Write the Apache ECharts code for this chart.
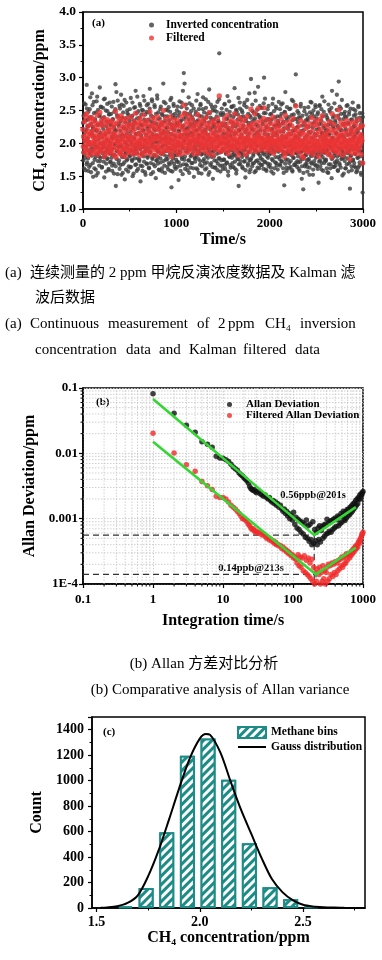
<!DOCTYPE html>
<html><head><meta charset="utf-8">
<script src="https://cdn.jsdelivr.net/npm/echarts@6/dist/echarts.min.js"></script>
<style>html,body{margin:0;padding:0;background:#fff}#c{width:382px;height:960px}</style>
</head><body><div id="c"></div>
<script>
// ================= DATA =================
// (a) continuous measurement (ppm); invertedConc sampled at t = i*timeStep,
// invertedConcB at t = i*timeStep + timeStep/2, filteredConc at t = i*timeStep
const timeStep = 4;
const invertedConc = [
2.31,1.86,2.12,1.62,2.45,2.03,1.78,2.59,1.95,2.21,2.89,1.71,2.08,2.36,1.58,1.99,2.27,1.84,2.52,2.14,1.67,2.40,1.92,2.18,2.76,
1.88,2.25,1.49,2.11,2.63,1.97,1.75,2.34,2.02,1.60,2.47,1.83,2.19,2.71,1.94,1.55,2.29,2.06,1.80,2.41,2.85,1.73,2.16,1.90,2.55,
2.09,1.64,2.38,1.96,2.22,1.79,2.67,1.48,2.13,2.00,1.87,2.50,1.69,2.26,1.93,2.60,1.77,2.04,2.33,1.59,2.17,2.44,1.85,2.01,1.72,
2.28,1.91,2.56,1.66,2.07,2.37,1.82,2.15,1.54,2.48,1.98,2.20,2.90,1.35,2.10,1.76,2.43,1.89,2.65,2.03,1.70,2.30,1.95,1.61,2.53,
2.19,1.84,2.74,1.52,2.06,2.39,1.93,1.68,2.24,2.57,1.79,2.11,1.45,2.32,2.00,1.86,2.62,1.74,2.15,2.46,1.97,1.57,2.27,2.05,1.81,
2.35,1.63,2.12,2.69,1.90,2.02,1.75,2.42,1.50,2.23,2.08,1.83,2.54,1.96,2.31,1.67,2.80,1.88,2.14,1.58,2.38,2.01,1.77,2.49,1.93,
2.16,1.73,2.60,1.99,1.42,2.29,2.07,1.85,2.51,1.65,2.20,1.94,2.72,1.80,2.36,2.04,1.56,2.44,1.89,2.13,1.69,2.58,2.00,1.78,2.25,
1.92,2.47,1.62,2.18,2.83,1.87,2.05,1.53,2.33,1.98,2.64,1.76,2.10,2.40,1.68,2.22,1.95,2.55,1.81,2.03,1.47,2.30,2.12,1.74,2.68,
2.01,1.79,2.37,1.60,2.26,2.09,1.86,2.52,1.71,2.15,1.94,2.45,1.57,2.32,2.06,2.91,1.83,2.19,1.66,2.41,1.97,2.61,1.75,2.11,1.88,
2.24,1.64,2.50,1.93,2.07,1.70,2.35,2.00,1.82,2.66,1.58,2.14,1.33,2.28,1.91,2.43,1.77,2.04,2.57,1.69,2.20,1.86,2.39,1.61,2.09,
1.95,2.31,1.72,2.56,2.02,1.84,1.44,2.18,2.47,1.89,2.10,1.66,2.34,1.98,2.62,1.76,2.13,1.53,2.27,1.92,3.07,2.05,2.91,1.80,2.21,
2.40,1.68,2.08,2.53,1.87,1.59,2.23,1.99,2.70,1.74,2.15,1.91,2.44,1.63,2.30,2.03,1.82,2.58,1.70,2.12,2.36,1.95,1.49,2.26,2.01,
1.78,2.19,2.48,1.90,1.62,2.33,2.06,2.75,1.85,2.11,1.55,2.42,1.97,2.24,1.73,2.60,2.00,1.83,2.29,1.65,2.09,2.52,1.92,2.17,1.76,
2.37,1.96,1.60,2.21,2.67,1.81,2.04,1.71,2.45,1.93,2.13,1.52,2.32,2.82,1.88,2.07,1.67,2.39,1.99,2.24,1.79,2.55,2.02,1.46,2.15,
1.89,2.28,1.74,2.50,2.05,1.63,2.18,1.94,2.41,1.84,2.63,1.69,2.10,2.34,1.98,3.37,1.77,2.22,1.57,2.46,2.01,1.87,2.30,1.66,2.12,
2.43,1.92,2.08,1.75,2.59,2.00,1.61,2.26,1.86,2.37,1.70,2.14,2.72,1.95,1.51,2.20,2.03,1.80,2.48,1.67,2.11,2.33,1.90,2.56,1.78,
1.97,2.25,1.64,2.40,2.06,1.83,2.84,1.72,2.16,1.93,2.51,1.59,2.29,2.02,1.88,2.44,1.76,1.35,2.19,1.99,2.62,1.68,2.09,2.35,1.85,
2.13,1.79,2.47,1.62,2.27,2.00,1.90,2.58,1.73,2.07,1.48,2.38,1.95,2.21,1.82,2.66,2.04,1.69,2.31,1.87,2.15,1.56,2.42,1.98,1.75,
2.98,1.94,2.23,1.65,2.49,2.01,1.81,2.35,1.70,2.12,2.77,1.89,2.05,1.58,2.29,1.96,2.44,1.74,2.17,2.86,1.84,2.09,1.62,2.39,1.97,
2.20,1.77,2.54,1.91,2.07,1.67,2.33,2.00,1.85,2.61,3.00,1.72,2.14,1.94,2.46,1.60,2.25,2.03,1.80,2.37,1.69,2.10,2.57,1.88,2.02,
1.83,2.31,1.99,1.63,2.45,2.08,1.76,2.22,1.92,2.68,1.54,2.16,2.01,1.86,2.39,1.71,2.27,1.97,2.53,1.66,2.12,1.90,2.34,1.79,2.05,
2.26,1.93,1.68,2.41,2.04,1.81,2.59,1.73,2.11,1.98,2.30,1.62,2.18,1.87,1.36,2.47,1.95,2.78,1.75,2.08,1.58,2.35,2.00,1.84,2.22,
1.89,2.14,1.70,2.52,1.96,2.28,1.64,2.03,1.82,2.43,1.91,1.57,2.19,2.64,1.78,2.06,1.93,2.37,1.67,2.11,3.05,1.85,2.24,1.99,1.73,
2.32,1.80,2.07,1.61,2.40,1.94,2.15,1.72,2.56,1.87,2.02,1.46,2.27,1.98,1.76,1.30,2.20,1.90,2.49,1.65,2.09,1.83,2.35,1.96,1.69,
2.12,1.57,2.38,1.92,1.75,2.25,2.01,1.63,2.47,1.86,2.17,1.71,2.62,1.95,1.81,2.30,1.52,2.08,1.89,2.41,1.68,2.14,1.97,2.55,1.78,
1.93,2.21,1.66,2.44,2.00,1.84,1.40,2.29,1.95,2.58,1.74,2.10,1.88,2.35,1.60,2.16,2.71,1.79,2.04,1.91,2.48,1.70,2.23,1.86,1.99,
2.18,1.75,2.05,1.62,2.39,1.90,2.28,1.55,2.13,1.97,2.51,1.82,2.02,1.68,2.33,1.93,1.47,2.80,2.09,1.78,2.26,1.87,2.42,1.64,2.00,
1.85,2.32,1.96,1.71,2.15,2.74,1.80,2.06,1.58,2.24,2.94,1.92,2.37,1.67,2.11,1.99,2.53,1.76,2.20,1.89,1.51,2.29,2.02,1.83,2.45,
2.08,1.73,2.41,1.94,1.62,2.19,2.57,1.86,2.03,1.77,2.31,1.99,1.69,2.48,1.90,1.31,2.14,1.81,2.36,1.95,1.59,2.23,2.05,1.74,2.52,
1.91,2.27,1.65,2.10,1.84,2.44,1.97,1.56,2.33,2.00,1.78,2.18,1.63,2.55,1.93,2.07,1.71,2.39,1.88,2.24,1.52,2.13,1.96,2.46,1.25];
const invertedConcB = [
1.74,2.42,1.96,2.61,1.83,2.17,1.59,2.35,2.05,1.68,2.53,1.90,2.26,1.77,2.48,2.02,1.64,2.39,1.87,2.70,1.98,1.56,2.30,1.81,2.14,
2.58,1.70,2.23,1.92,2.46,1.62,2.09,2.37,1.79,2.20,1.51,2.64,1.95,2.28,1.73,2.51,1.86,2.12,1.66,2.43,2.00,1.78,2.56,1.91,2.32,
1.63,2.27,1.85,2.54,2.01,1.72,2.40,1.94,2.68,1.80,2.15,1.57,2.33,2.06,1.76,2.49,1.89,2.21,1.61,2.44,1.97,2.62,1.71,2.29,1.84,
2.45,1.78,2.10,1.58,2.36,1.92,2.63,1.69,2.25,1.99,1.82,2.52,1.65,2.19,2.78,1.88,2.04,1.53,2.41,1.95,2.27,1.74,2.57,1.86,2.11,
1.67,2.34,1.97,2.59,1.79,2.13,1.55,2.47,1.90,2.24,1.71,2.66,2.02,1.84,2.38,1.60,2.21,1.93,2.50,1.76,2.08,2.43,1.65,2.30,1.88,
2.52,1.81,2.18,1.64,2.40,1.98,1.73,2.62,1.89,2.28,1.54,2.35,2.07,1.77,2.55,1.92,2.14,1.68,2.46,1.85,2.71,1.96,1.61,2.23,2.00,
1.75,2.39,1.91,2.57,1.66,2.12,2.44,1.83,2.27,1.58,2.50,1.97,2.19,1.72,2.65,1.87,2.05,1.52,2.33,1.94,2.48,1.69,2.22,1.80,2.60,
2.36,1.63,2.09,2.53,1.86,2.26,1.70,2.42,1.95,2.67,1.78,2.14,1.56,2.31,2.01,1.82,2.58,1.65,2.20,1.92,2.45,1.74,2.10,2.73,1.88,
1.69,2.47,1.90,2.21,1.59,2.38,2.03,1.77,2.56,1.84,2.29,1.62,2.43,1.96,2.15,1.73,2.63,1.88,2.07,1.55,2.34,1.99,2.51,1.80,2.24,
2.41,1.76,2.17,1.60,2.55,1.93,2.30,1.68,2.48,1.85,2.06,2.69,1.72,2.23,1.57,2.39,1.97,2.60,1.81,2.12,1.64,2.45,1.90,2.27,1.75,
1.82,2.50,1.64,2.28,1.97,2.42,1.71,2.19,2.64,1.86,2.33,1.58,2.09,2.55,1.79,2.24,1.95,2.80,1.68,2.37,2.03,1.75,2.46,1.61,2.14,
2.59,1.88,2.22,1.66,2.45,1.93,2.12,1.74,2.36,1.55,2.61,1.99,2.27,1.80,2.49,1.70,2.16,2.40,1.85,2.05,1.62,2.53,1.91,2.31,1.77,
1.72,2.44,1.95,2.65,1.81,2.20,1.60,2.35,2.01,1.76,2.52,1.88,2.13,1.67,2.58,1.93,2.29,1.54,2.41,1.84,2.18,2.70,1.73,2.08,2.47,
2.33,1.69,2.16,1.85,2.54,1.62,2.40,1.97,2.25,1.78,2.63,1.91,2.07,1.56,2.46,1.83,2.21,2.59,1.70,2.36,1.94,1.64,2.50,1.87,2.29,
1.80,2.37,1.63,2.24,2.56,1.90,2.11,1.73,2.48,1.95,1.59,2.32,2.06,1.77,2.67,1.86,2.19,1.66,2.43,2.00,1.74,2.53,1.89,2.27,1.61,
2.46,1.75,2.15,1.92,2.60,1.67,2.30,1.84,2.08,2.51,1.71,2.38,1.98,1.57,2.23,1.88,2.64,1.79,2.12,2.42,1.63,2.18,1.94,2.55,1.82,
1.70,2.31,1.87,2.57,1.96,2.14,1.62,2.44,1.81,2.26,1.54,2.49,2.04,1.76,2.36,1.92,2.69,1.68,2.21,1.85,2.53,1.73,2.09,2.40,1.89,
2.50,1.64,2.23,1.83,2.41,2.00,1.72,2.62,1.90,2.17,1.59,2.34,1.95,2.55,1.78,2.10,1.66,2.45,1.87,2.28,2.76,1.74,2.05,1.60,2.39,
1.77,2.32,1.93,2.59,1.69,2.20,1.84,2.47,2.02,1.56,2.38,1.90,2.65,1.73,2.15,1.97,2.51,1.63,2.26,1.86,2.43,1.70,2.11,2.57,1.81,
2.40,1.67,2.08,1.88,2.54,1.75,2.29,1.94,1.61,2.46,1.83,2.19,2.68,1.71,2.35,1.99,1.58,2.24,1.86,2.52,1.78,2.13,1.65,2.37,1.92,
1.68,2.44,1.85,2.21,1.57,2.36,1.96,2.60,1.74,2.12,1.89,2.49,1.62,2.27,2.03,1.79,2.56,1.70,2.16,1.93,2.41,1.60,2.31,1.87,2.63,
2.29,1.76,2.52,1.66,2.18,1.90,2.45,1.72,2.06,2.61,1.83,2.33,1.55,2.23,1.95,2.48,1.69,2.10,1.85,2.39,1.63,2.55,1.98,1.75,2.26,
1.84,2.40,1.62,2.28,1.97,2.53,1.73,2.14,1.88,2.66,1.59,2.35,2.01,1.78,2.44,1.67,2.20,1.92,2.58,1.70,2.09,1.86,2.37,1.64,2.49,
2.25,1.71,2.46,1.86,2.13,1.58,2.38,1.95,2.60,1.77,2.19,1.65,2.42,1.89,2.04,1.55,2.31,1.80,2.54,1.93,1.68,2.27,1.82,2.44,1.74,
1.64,2.35,1.90,2.55,1.76,2.17,1.52,2.40,1.94,2.63,1.81,2.08,1.69,2.45,1.87,2.24,1.60,2.50,1.98,1.73,2.33,1.85,2.58,1.66,2.12,
2.38,1.80,2.04,1.61,2.47,1.89,2.22,1.72,2.57,1.95,1.65,2.30,1.83,2.52,1.70,2.15,1.91,2.41,1.58,2.26,1.86,2.64,1.75,2.10,1.93,
1.73,2.43,1.88,2.20,1.56,2.36,1.97,2.59,1.68,2.14,1.84,2.48,1.62,2.29,1.95,2.54,1.76,2.07,1.90,2.39,1.64,2.23,1.81,2.61,1.71,
2.34,1.66,2.16,1.87,2.51,1.74,2.27,1.59,2.42,1.93,2.08,1.70,2.56,1.82,2.20,1.63,2.45,1.91,2.66,1.77,2.12,1.86,2.37,1.54,2.30,
1.79,2.48,1.62,2.22,1.94,2.40,1.68,2.13,2.58,1.85,2.30,1.57,2.44,1.90,2.05,1.72,2.53,1.81,2.18,1.65,2.36,1.96,2.62,1.75,2.09,
2.42,1.70,2.26,1.84,2.50,1.63,2.15,1.92,2.38,1.58,2.21,1.78,2.57,1.89,2.03,1.66,2.46,1.80,2.28,1.55,2.34,1.87,2.11,1.69,2.40];
const filteredConc = [
2.21,1.95,2.10,1.86,2.33,2.04,1.92,2.41,2.00,2.15,2.45,1.89,2.07,2.26,1.81,2.02,2.18,1.97,2.37,2.12,1.88,2.29,2.01,2.14,2.39,
1.98,2.19,1.84,2.09,2.35,2.03,1.91,2.24,2.06,1.87,2.31,1.96,2.13,2.43,2.01,1.83,2.20,2.08,1.93,2.28,2.47,1.90,2.11,1.99,2.34,
2.10,1.88,2.27,2.02,2.16,1.94,2.38,1.80,2.12,2.05,1.97,2.30,1.86,2.18,2.01,2.36,1.92,2.07,2.23,1.85,2.14,2.32,1.96,2.04,1.90,
2.20,1.99,2.34,1.87,2.08,2.25,1.94,2.13,1.82,2.29,2.03,2.15,2.49,1.79,2.09,1.93,2.31,2.00,2.40,2.06,1.89,2.22,2.01,1.85,2.36,
2.14,1.96,2.42,1.83,2.07,2.27,2.02,1.90,2.19,2.35,1.93,2.11,1.80,2.24,2.05,1.98,2.38,1.91,2.13,2.30,2.03,1.86,2.21,2.08,1.95,
2.26,1.88,2.10,2.40,2.00,2.06,1.92,2.29,1.84,2.18,2.09,1.97,2.33,2.03,2.22,1.89,2.46,1.99,2.12,1.85,2.28,2.04,1.94,2.31,2.01,
2.15,1.93,2.37,2.05,1.81,2.23,2.08,1.98,2.32,1.87,2.17,2.02,2.43,1.95,2.26,2.07,1.84,2.30,2.00,2.13,1.90,2.35,2.06,1.96,2.20,
2.03,2.29,1.88,2.16,2.48,1.99,2.09,1.83,2.25,2.04,2.39,1.94,2.11,2.28,1.90,2.19,2.05,2.34,1.97,2.08,1.82,2.24,2.12,1.93,2.41,
2.07,1.95,2.26,1.87,2.20,2.10,2.00,2.33,1.92,2.14,2.03,2.30,1.85,2.23,2.08,2.50,1.98,2.17,1.89,2.28,2.04,2.38,1.94,2.12,2.01,
2.18,1.90,2.32,2.04,2.09,1.91,2.25,2.06,1.97,2.40,1.86,2.13,1.80,2.22,2.02,2.29,1.95,2.07,2.36,1.92,2.16,1.99,2.27,1.88,2.10,
2.02,2.24,1.93,2.35,2.06,1.98,1.83,2.15,2.30,2.00,2.11,1.91,2.26,2.04,2.41,1.96,2.12,1.85,2.21,2.01,2.58,2.08,2.46,1.97,2.17,
2.28,1.92,2.09,2.34,2.01,1.86,2.19,2.05,2.42,1.95,2.13,2.03,2.30,1.90,2.22,2.07,1.98,2.37,1.93,2.11,2.25,2.04,1.84,2.18,2.06,
1.96,2.15,2.31,2.02,1.89,2.24,2.08,2.44,2.00,2.12,1.85,2.29,2.05,2.18,1.94,2.36,2.07,1.99,2.21,1.91,2.10,2.33,2.01,2.14,1.97,
2.26,2.04,1.88,2.17,2.39,1.97,2.09,1.93,2.30,2.03,2.11,1.84,2.23,2.47,2.00,2.08,1.92,2.28,2.05,2.16,1.96,2.34,2.06,1.82,2.12,
2.01,2.20,1.94,2.32,2.07,1.90,2.15,2.03,2.27,1.98,2.38,1.93,2.10,2.24,2.05,2.72,1.97,2.17,1.87,2.29,2.06,2.00,2.21,1.91,2.11,
2.30,2.02,2.08,1.95,2.37,2.04,1.89,2.19,1.99,2.26,1.93,2.12,2.43,2.03,1.84,2.16,2.07,1.97,2.32,1.91,2.10,2.23,2.01,2.35,1.96,
2.05,2.18,1.92,2.28,2.07,1.98,2.45,1.94,2.13,2.03,2.33,1.88,2.20,2.06,2.00,2.29,1.96,1.82,2.15,2.04,2.39,1.93,2.09,2.24,2.01,
2.11,1.97,2.31,1.90,2.19,2.06,2.02,2.36,1.95,2.08,1.83,2.25,2.04,2.16,1.99,2.41,2.07,1.92,2.22,2.00,2.12,1.87,2.28,2.05,1.96,
2.52,2.03,2.17,1.91,2.30,2.05,1.98,2.24,1.94,2.10,2.45,2.01,2.07,1.88,2.20,2.04,2.32,1.96,2.13,2.53,2.00,2.09,1.90,2.26,2.06,
2.16,1.97,2.34,2.02,2.08,1.92,2.22,2.05,1.99,2.38,2.54,1.95,2.11,2.03,2.29,1.89,2.18,2.06,1.98,2.25,1.93,2.10,2.36,2.00,2.07,
1.98,2.21,2.05,1.88,2.30,2.07,1.95,2.16,2.02,2.40,1.85,2.13,2.04,1.99,2.26,1.93,2.19,2.03,2.33,1.91,2.10,2.00,2.23,1.96,2.06,
2.17,2.02,1.90,2.28,2.05,1.97,2.37,1.92,2.09,2.03,2.20,1.87,2.12,1.99,1.80,2.31,2.04,2.43,1.94,2.08,1.86,2.24,2.01,1.96,2.14,
1.99,2.10,1.91,2.33,2.02,2.18,1.88,2.05,1.96,2.27,2.01,1.84,2.13,2.38,1.94,2.06,2.00,2.22,1.90,2.09,2.57,1.97,2.15,2.03,1.92,
2.20,1.95,2.06,1.87,2.27,2.01,2.12,1.93,2.35,1.98,2.04,1.81,2.17,2.02,1.92,1.78,2.14,1.99,2.31,1.89,2.07,1.96,2.23,2.03,1.90,
2.09,1.86,2.25,2.01,1.93,2.16,2.04,1.88,2.30,1.97,2.11,1.91,2.39,2.03,1.95,2.19,1.83,2.06,1.99,2.27,1.90,2.10,2.02,2.34,1.94,
2.01,2.14,1.89,2.28,2.03,1.96,1.80,2.18,2.02,2.36,1.92,2.08,1.98,2.22,1.87,2.11,2.42,1.95,2.05,2.00,2.30,1.91,2.15,1.97,2.04,
2.12,1.94,2.04,1.86,2.26,1.99,2.18,1.83,2.09,2.02,2.33,1.95,2.03,1.90,2.21,2.00,1.79,2.45,2.07,1.93,2.16,1.98,2.29,1.88,2.02,
1.97,2.20,2.03,1.91,2.10,2.40,1.95,2.05,1.85,2.14,2.51,2.01,2.24,1.89,2.08,2.00,2.32,1.94,2.12,1.98,1.82,2.17,2.04,1.96,2.28,
2.06,1.92,2.27,2.01,1.87,2.13,2.35,1.98,2.04,1.93,2.19,2.02,1.88,2.30,1.99,1.76,2.10,1.95,2.23,2.03,1.85,2.15,2.05,1.94,2.33,
2.00,2.17,1.90,2.08,1.97,2.29,2.03,1.84,2.21,2.01,1.94,2.11,1.89,2.36,2.02,2.07,1.93,2.24,1.99,2.14,1.83,2.09,2.04,2.27,1.70];

// (b) Allan deviation (ppm) versus integration time tau (s)
const tau = [1,2,3,4,5,6,7,8,9,10,11,12,13,14,15,16,17,18,19,20,21,22,23,24,25,26,27,28,29,30,
32,34,36,38,40,42,44,46,48,50,52,54,56,58,60,63,66,69,72,75,78,81,84,87,90,94,98,102,106,110,
114,118,122,126,130,135,140,145,150,155,160,165,170,175,180,186,192,198,204,210,
216,222,228,234,240,247,254,261,268,275,282,290,298,306,314,322,330,340,350,360,
370,380,390,400,412,424,436,448,460,472,485,498,511,524,538,552,566,580,595,610,
625,640,656,672,688,704,720,737,754,771,788,806,824,842,860,880,900,920,940,960,980,1000];
const allanDev = [0.082,0.041,0.027,0.021,0.015,0.0138,0.0124,0.0090,0.0085,0.0084,
0.0080,0.0075,0.0068,0.0062,0.0058,0.0055,0.0050,0.0047,0.0045,0.0042,
0.0040,0.0038,0.0035,0.0031,0.0029,0.0028,0.0027,0.0028,0.0026,0.0025,
0.0026,0.0024,0.0023,0.0022,0.0023,0.0021,0.0020,0.0021,0.0019,0.0018,
0.0019,0.0017,0.0018,0.0016,0.0017,0.0015,0.0016,0.0014,0.0013,0.0014,
0.0012,0.0013,0.0011,0.0012,0.0010,0.0011,0.00095,0.00125,0.00082,0.00105,
0.00072,0.00098,0.00068,0.00092,0.00062,0.00088,0.00058,0.00082,0.00052,0.00095,
0.00050,0.00078,0.00045,0.00082,0.00048,0.00040,0.00090,0.00042,0.00068,0.00046,
0.00062,0.00040,0.00072,0.00048,0.00078,0.00044,0.00066,0.00075,0.00050,0.00080,
0.00054,0.00082,0.00058,0.00098,0.00060,0.00086,0.00064,0.00092,0.00062,0.00094,
0.00068,0.00098,0.00072,0.00102,0.00076,0.00096,0.00110,0.00078,0.00106,0.00084,
0.00120,0.00088,0.00112,0.00130,0.00098,0.00094,0.00128,0.00102,0.00138,0.00110,
0.00140,0.00115,0.00150,0.00122,0.00158,0.00130,0.00168,0.00140,0.00175,0.00150,
0.0019,0.0016,0.0020,0.0017,0.0021,0.0020,0.0023,0.0020,0.0024,0.0023,0.0025,0.0026];
const filteredAllanDev = [0.0203,0.0101,0.0067,0.0053,0.0037,0.0032,0.0028,0.0022,0.0021,0.0021,
0.0020,0.0018,0.0016,0.0015,0.0014,0.0013,0.0012,0.0011,0.0010,0.0010,
0.00095,0.00090,0.00082,0.00078,0.00072,0.00068,0.00070,0.00066,0.00062,0.00064,
0.00060,0.00062,0.00056,0.00058,0.00054,0.00050,0.00052,0.00047,0.00049,0.00045,
0.00046,0.00042,0.00044,0.00040,0.00041,0.00038,0.00039,0.00035,0.00037,0.00033,
0.00034,0.00031,0.00032,0.00029,0.00030,0.00027,0.00028,0.00025,0.00026,0.00024,
0.00021,0.00028,0.00019,0.00026,0.00018,0.00025,0.00016,0.00027,0.00015,0.00023,
0.00014,0.00025,0.00013,0.00021,0.00012,0.00024,0.00011,0.00018,0.00010,0.00015,
0.00011,0.00017,0.000098,0.00014,0.00018,0.00010,0.00015,0.00011,0.00019,0.00012,
0.00016,0.00010,0.00015,0.00018,0.00011,0.00020,0.00012,0.00019,0.00014,0.00021,
0.00013,0.00020,0.00015,0.00022,0.00014,0.00021,0.00016,0.00023,0.00017,0.00024,
0.00019,0.00026,0.00018,0.00025,0.00020,0.00027,0.00021,0.00029,0.00023,0.00028,
0.00028,0.00025,0.00030,0.00027,0.00032,0.00029,0.00034,0.00031,0.00036,0.00033,
0.00038,0.00035,0.00040,0.00037,0.00043,0.00046,0.00042,0.00049,0.00052,0.00056,0.00058,0.00062];
const fitAllanTau = [1, 201, 790];
const fitAllanDev = [0.068, 0.00056, 0.0015];
const fitFiltTau  = [1, 213, 790];
const fitFiltDev  = [0.015, 0.00014, 0.00036];
const allanMin = [201, 0.00056];
const filtMin  = [213, 0.00014];

// (c) histogram
const binCenters = [1.64,1.74,1.84,1.94,2.04,2.14,2.24,2.34,2.44,2.54];
const binCounts  = [13,157,594,1196,1332,1008,508,162,68,13];
const gaussX = [1.52,1.55,1.60,1.65,1.70,1.75,1.80,1.85,1.90,1.95,2.00,2.03,2.05,2.10,2.15,2.20,2.25,2.30,2.35,2.40,2.45,2.50,2.55,2.60,2.65,2.70,2.80];
const gaussY = [1,4,14,40,100,250,450,690,940,1170,1330,1366,1360,1220,990,770,580,390,225,125,62,26,12,6,3,1,0];

// axis ticks
const ticksAX = [0,1000,2000,3000];
const ticksAY = [1.0,1.5,2.0,2.5,3.0,3.5,4.0];
const decadesBX = [0.1,1,10,100,1000];
const decadesBY = [0.0001,0.001,0.01,0.1];
const ticksCXmajor = [1.5,2.0,2.5];
const ticksCXminor = [1.75,2.25,2.75];

// ================= CHART =================
const FONT = '"Liberation Serif","Times New Roman",serif';
const CAP = '15px "Liberation Serif","Noto Sans CJK SC",serif';
const BX0 = decadesBX[0], BX1 = decadesBX[decadesBX.length-1];
const BY0 = decadesBY[0], BY1 = decadesBY[decadesBY.length-1];
const minorBX = [], minorBY = [];
decadesBX.slice(0,-1).forEach(d => { for (let k = 2; k <= 9; k++) minorBX.push(+(k*d).toPrecision(3)); });
decadesBY.slice(0,-1).forEach(d => { for (let k = 2; k <= 9; k++) minorBY.push(+(k*d).toPrecision(3)); });
const TEAL = '#1d8c87';
const GREEN = '#33d633';
const lab = (size) => ({fontFamily: FONT, fontWeight: 'bold', fontSize: size, color: '#000'});
const nameStyle = {fontFamily: FONT, fontWeight: 'bold', fontSize: 16, color: '#000'};
const axLine = {show: true, lineStyle: {color: '#000', width: 1.5}};
const plain = v => String(v);

const chart = echarts.init(document.getElementById('c'), null, {renderer: 'canvas'});

const words3 = [['(a)',5],['Continuous',30],['measurement',108],['of',197],['2',218],['ppm',228],['CH₄',265],['inversion',300]];
const words4 = [['concentration',35],['data',126],['and',159],['Kalman',189],['filtered',243],['data',295]];
const txt = (t, x, y, extra) => Object.assign({type: 'text', x: x, y: y, silent: true,
  style: Object.assign({text: t, font: CAP, fill: '#000', textVerticalAlign: 'middle'}, extra || {})});
const graphics = [
  txt('(a)', 5, 273), txt('连续测量的 2 ppm 甲烷反演浓度数据及 Kalman 滤', 30, 273),
  txt('波后数据', 35, 298),
  ...words3.map(w => txt(w[0], w[1], 324)),
  ...words4.map(w => txt(w[0], w[1], 350)),
  txt('(b) Allan 方差对比分析', 204, 664, {textAlign: 'center'}),
  txt('(b) Comparative analysis of Allan variance', 220, 690, {textAlign: 'center'}),
  txt('(a)', 92, 23, {font: 'bold 11px ' + FONT}),
  txt('(b)', 96, 402, {font: 'bold 11px ' + FONT}),
  txt('(c)', 103, 732, {font: 'bold 11px ' + FONT}),
  txt('0.56ppb@201s', 313, 495, {font: 'bold 10.5px ' + FONT, textAlign: 'center'}),
  txt('0.14ppb@213s', 251, 568, {font: 'bold 10.5px ' + FONT, textAlign: 'center'})
];

const blackPts = invertedConc.map((v, i) => [i * timeStep, v])
  .concat(invertedConcB.map((v, i) => [i * timeStep + timeStep / 2, v]));

const option = {
  animation: false,
  backgroundColor: '#fff',
  graphic: graphics,
  grid: [
    {left: 83, top: 12, width: 280, height: 197, show: true, borderColor: '#000', borderWidth: 1.5, backgroundColor: 'transparent'},
    {left: 83, top: 388, width: 280, height: 196, show: true, borderColor: '#000', borderWidth: 1.5, backgroundColor: 'transparent'},
    {left: 92, top: 717, width: 273, height: 191, show: true, borderColor: '#000', borderWidth: 1.5, backgroundColor: 'transparent'}
  ],
  legend: [
    {data: ['Inverted concentration', 'Filtered'], orient: 'vertical', left: 144, top: 14, icon: 'circle',
     itemWidth: 5, itemHeight: 5, itemGap: 1, textStyle: Object.assign(lab(11.5), {padding: [0,0,0,7]})},
    {data: ['Allan Deviation', 'Filtered Allan Deviation'], orient: 'vertical', left: 222, top: 394, icon: 'circle',
     itemWidth: 5, itemHeight: 5, itemGap: 0, textStyle: Object.assign(lab(11), {padding: [0,0,0,9]})},
    {data: [{name: 'Methane bins', icon: 'rect'}, {name: 'Gauss distribution', icon: 'path://M0,0H28V2H0Z'}],
     orient: 'vertical', left: 232, top: 721, symbolKeepAspect: true,
     itemWidth: 28, itemHeight: 11, itemGap: 2, textStyle: lab(11.5)}
  ],
  xAxis: [
    {gridIndex: 0, type: 'value', min: ticksAX[0], max: ticksAX[3], interval: 1000,
     name: 'Time/s', nameLocation: 'middle', nameGap: 23, nameTextStyle: nameStyle,
     axisLine: axLine, axisTick: {inside: false, length: 4, lineStyle: {width: 1.2}},
     minorTick: {show: true, splitNumber: 2, length: 2.5, lineStyle: {color: '#000', width: 1}},
     axisLabel: Object.assign(lab(13), {margin: 8, formatter: plain}), splitLine: {show: false}},
    {gridIndex: 1, type: 'log', logBase: 10, min: BX0, max: BX1,
     name: 'Integration time/s', nameLocation: 'middle', nameGap: 29, nameTextStyle: nameStyle,
     axisLine: axLine, axisTick: {inside: false, length: 4, lineStyle: {width: 1.2}},
     axisLabel: Object.assign(lab(13), {margin: 9, formatter: v => String(+(+v).toPrecision(2))}),
     splitLine: {show: true, lineStyle: {color: '#c4c4c4', width: 0.8, type: [1.5, 1.5]}}},
    {gridIndex: 2, type: 'value', min: 1.478, max: 2.8,
     name: 'CH₄ concentration/ppm', nameLocation: 'middle', nameGap: 19, nameTextStyle: nameStyle,
     axisLine: axLine, axisTick: {inside: false, length: 4, customValues: ticksCXmajor, lineStyle: {width: 1.2}},
     axisLabel: Object.assign(lab(14), {margin: 7, customValues: ticksCXmajor, formatter: v => (+v).toFixed(1)}),
     splitLine: {show: false}},
    {gridIndex: 2, type: 'value', min: 1.478, max: 2.8, position: 'bottom',
     axisLine: {show: false}, axisLabel: {show: false}, splitLine: {show: false},
     axisTick: {show: true, inside: false, length: 2.5, customValues: ticksCXminor, lineStyle: {color: '#000', width: 1}}}
  ],
  yAxis: [
    {gridIndex: 0, type: 'value', min: ticksAY[0], max: ticksAY[6], interval: 0.5,
     name: 'CH₄ concentration/ppm', nameLocation: 'middle', nameGap: 29, nameTextStyle: nameStyle,
     axisLine: axLine, axisTick: {inside: false, length: 4, lineStyle: {width: 1.2}},
     minorTick: {show: true, splitNumber: 2, length: 2.5, lineStyle: {color: '#000', width: 1}},
     axisLabel: Object.assign(lab(13.5), {margin: 7, formatter: v => (+v).toFixed(1)}), splitLine: {show: false}},
    {gridIndex: 1, type: 'log', logBase: 10, min: BY0, max: BY1,
     name: 'Allan Deviation/ppm', nameLocation: 'middle', nameGap: 30, nameTextStyle: nameStyle,
     axisLine: axLine, axisTick: {inside: false, length: 4, lineStyle: {width: 1.2}},
     axisLabel: Object.assign(lab(13), {margin: 5, formatter: v => (+v < 0.0005 ? '1E-4' : String(+(+v).toPrecision(1)))}),
     splitLine: {show: true, lineStyle: {color: '#c4c4c4', width: 0.8, type: [1.5, 1.5]}}},
    {gridIndex: 2, type: 'value', min: 0, max: 1500, interval: 200,
     name: 'Count', nameLocation: 'middle', nameGap: 38, nameTextStyle: nameStyle,
     axisLine: axLine, axisTick: {inside: false, length: 4, lineStyle: {width: 1.2}},
     minorTick: {show: true, splitNumber: 2, length: 2.5, lineStyle: {color: '#000', width: 1}},
     axisLabel: Object.assign(lab(14), {margin: 8, showMaxLabel: false, formatter: plain}), splitLine: {show: false}}
  ],
  series: [
    // (a)
    {name: 'Inverted concentration', type: 'scatter', xAxisIndex: 0, yAxisIndex: 0, symbolSize: 4.3,
     itemStyle: {color: '#3c3c3c'}, data: blackPts, z: 2},
    {name: 'Filtered', type: 'scatter', xAxisIndex: 0, yAxisIndex: 0, symbolSize: 5.4,
     itemStyle: {color: '#ec3434'}, data: filteredConc.map((v, i) => [i * timeStep, v]), z: 3},
    // (b) minor grid + ticks
    {type: 'custom', xAxisIndex: 1, yAxisIndex: 1, silent: true, z: 1, clip: false,
     data: minorBX.map(v => [v, BY0]),
     renderItem: (p, api) => {
       const a = api.coord([api.value(0), BY0]), b = api.coord([api.value(0), BY1]);
       return {type: 'group', children: [
         {type: 'line', shape: {x1: a[0], y1: a[1], x2: b[0], y2: b[1]}, style: {stroke: '#c4c4c4', lineWidth: 0.8, lineDash: [1.5, 1.5]}},
         {type: 'line', shape: {x1: a[0], y1: a[1], x2: a[0], y2: a[1] + 2.5}, style: {stroke: '#000', lineWidth: 1}}]};
     }},
    {type: 'custom', xAxisIndex: 1, yAxisIndex: 1, silent: true, z: 1, clip: false,
     data: minorBY.map(v => [BX0, v]),
     renderItem: (p, api) => {
       const a = api.coord([BX0, api.value(1)]), b = api.coord([BX1, api.value(1)]);
       return {type: 'group', children: [
         {type: 'line', shape: {x1: a[0], y1: a[1], x2: b[0], y2: b[1]}, style: {stroke: '#c4c4c4', lineWidth: 0.8, lineDash: [1.5, 1.5]}},
         {type: 'line', shape: {x1: a[0], y1: a[1], x2: a[0] - 2.5, y2: a[1]}, style: {stroke: '#000', lineWidth: 1}}]};
     }},
    {type: 'line', xAxisIndex: 1, yAxisIndex: 1, silent: true, symbol: 'none', z: 2,
     lineStyle: {color: '#333', width: 1.2, type: [6, 4]},
     data: [[BX0, allanMin[1]], allanMin, [allanMin[0], BY0]]},
    {type: 'line', xAxisIndex: 1, yAxisIndex: 1, silent: true, symbol: 'none', z: 2,
     lineStyle: {color: '#333', width: 1.2, type: [6, 4]},
     data: [[BX0, filtMin[1]], filtMin, [filtMin[0], BY0]]},
    {name: 'Allan Deviation', type: 'scatter', xAxisIndex: 1, yAxisIndex: 1, symbolSize: 5.5,
     itemStyle: {color: '#111'}, data: tau.map((t, i) => [t, allanDev[i]]), z: 3},
    {name: 'Filtered Allan Deviation', type: 'scatter', xAxisIndex: 1, yAxisIndex: 1, symbolSize: 5.5,
     itemStyle: {color: '#f02a2a'}, data: tau.map((t, i) => [t, filteredAllanDev[i]]), z: 3},
    {type: 'line', xAxisIndex: 1, yAxisIndex: 1, silent: true, symbol: 'none', z: 4,
     lineStyle: {color: GREEN, width: 2.6}, data: fitAllanTau.map((t, i) => [t, fitAllanDev[i]])},
    {type: 'line', xAxisIndex: 1, yAxisIndex: 1, silent: true, symbol: 'none', z: 4,
     lineStyle: {color: GREEN, width: 2.6}, data: fitFiltTau.map((t, i) => [t, fitFiltDev[i]])},
    // (c)
    {name: 'Methane bins', type: 'bar', xAxisIndex: 2, yAxisIndex: 2, barWidth: 15,
     itemStyle: {color: '#fff', borderColor: TEAL, borderWidth: 2,
       decal: {symbol: 'rect', symbolSize: 1, color: TEAL, backgroundColor: '#fff',
               dashArrayX: [1, 0], dashArrayY: [2.2, 2.2], rotation: -Math.PI / 4}},
     data: binCenters.map((c, i) => [c, binCounts[i]]), z: 2},
    {name: 'Gauss distribution', type: 'line', xAxisIndex: 2, yAxisIndex: 2, symbol: 'none', smooth: 0.3,
     lineStyle: {color: '#000', width: 2}, itemStyle: {color: '#000'},
     data: gaussX.map((x, i) => [x, gaussY[i]]), z: 3}
  ]
};
chart.setOption(option);
</script></body></html>
